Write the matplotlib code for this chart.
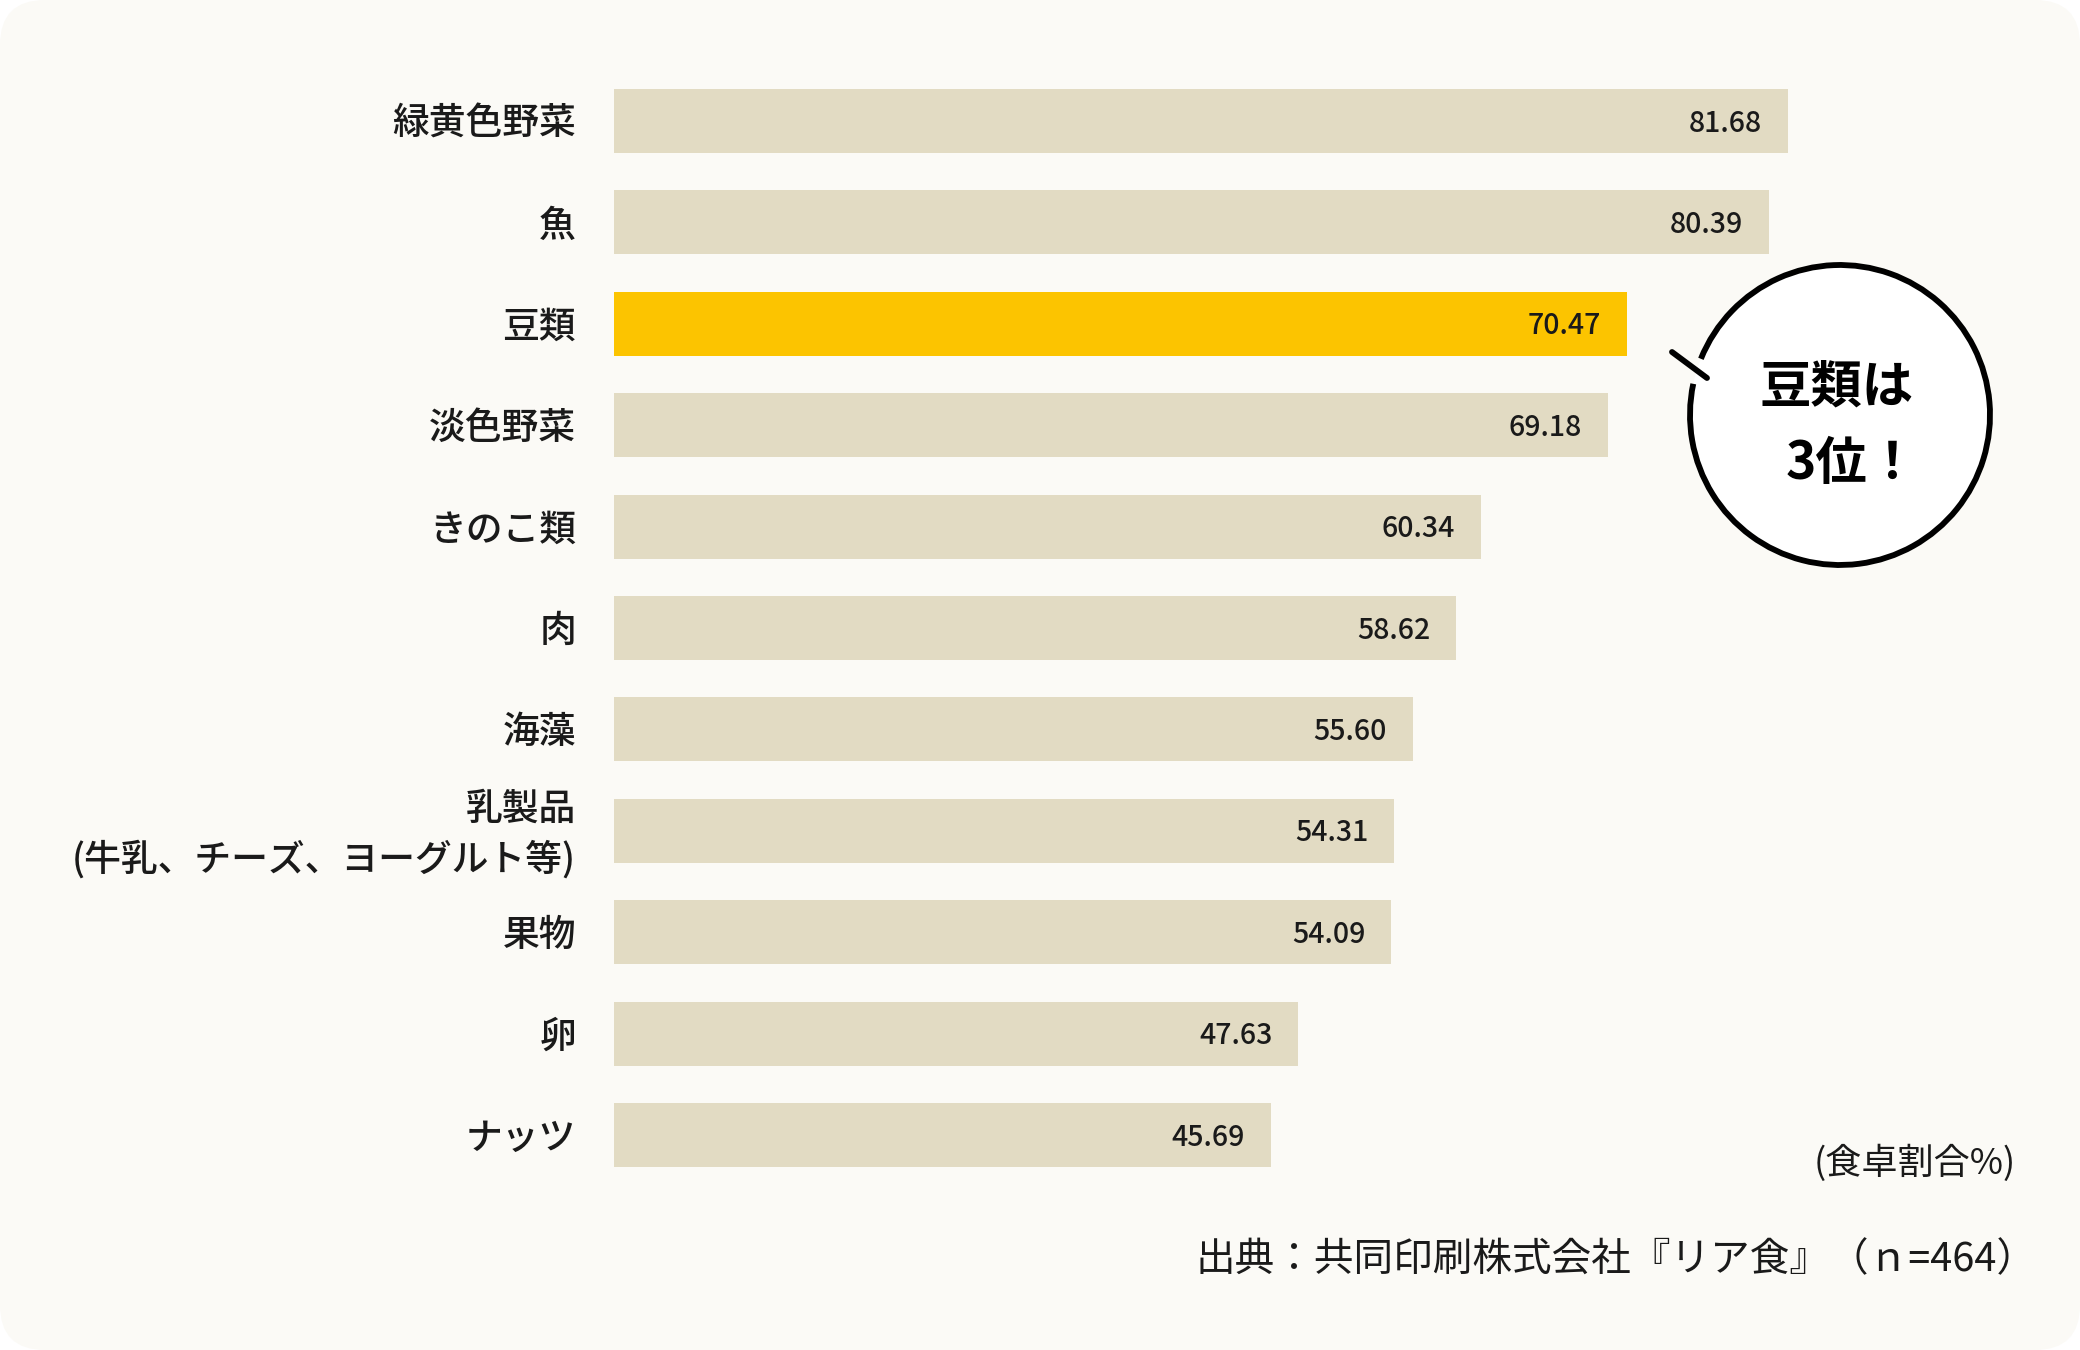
import matplotlib
matplotlib.use("Agg")
import matplotlib.pyplot as plt
from matplotlib.patches import FancyBboxPatch, Circle, Arc

plt.rcParams['font.family'] = ['Noto Sans CJK JP', 'DejaVu Sans']

categories = ["緑黄色野菜", "魚", "豆類", "淡色野菜", "きのこ類", "肉", "海藻",
              "乳製品\n(牛乳、チーズ、ヨーグルト等)", "果物", "卵", "ナッツ"]
values = [81.68, 80.39, 70.47, 69.18, 60.34, 58.62, 55.60, 54.31, 54.09, 47.63, 45.69]
highlight = "豆類"

BEIGE = "#E2DBC3"
YELLOW = "#FCC400"
TEXT = "#1A1A1A"
PANEL = "#FBFAF6"

W, H = 2080, 1350
fig = plt.figure(figsize=(W / 100, H / 100), dpi=100, facecolor="white")

# background panel
bg = fig.add_axes([0, 0, 1, 1], zorder=0)
bg.set_xlim(0, W); bg.set_ylim(0, H); bg.axis("off")
bg.add_patch(FancyBboxPatch((0, 0), W, H, boxstyle="round,pad=0,rounding_size=45",
                            facecolor=PANEL, edgecolor="none"))

# main bar axes
left_px, right_px, top_px, bot_px = 614, 2000, 40, 1220
ax = fig.add_axes([left_px / W, 1 - bot_px / H, (right_px - left_px) / W, (bot_px - top_px) / H], zorder=1)
ax.set_facecolor("none")
px_per_unit = 14.37
ax.set_xlim(0, (right_px - left_px) / px_per_unit)
ax.set_ylim(10.838, -0.799)

ypos = list(range(len(categories)))
colors = [YELLOW if c == highlight else BEIGE for c in categories]
ax.barh(ypos, values, height=0.63, color=colors, edgecolor="none")
for y, v in zip(ypos, values):
    ax.annotate(f"{v:.2f}", xy=(v, y), xytext=(-26, -2), textcoords="offset pixels",
                ha="right", va="center", fontsize=20.5, color=TEXT, fontweight="medium")

for y, c in zip(ypos, categories):
    ax.annotate(c, xy=(0, y), xycoords=("axes fraction", "data"), xytext=(-38, -3),
                textcoords="offset pixels", ha="right", va="center", fontsize=26.5,
                color=TEXT, fontweight="medium", linespacing=1.4)

ax.set_yticks([])
ax.set_xticks([])
for s in ax.spines.values():
    s.set_visible(False)

# overlay: callout and notes
ov = fig.add_axes([0, 0, 1, 1], zorder=2)
ov.set_xlim(0, W); ov.set_ylim(0, H); ov.axis("off"); ov.set_facecolor("none")
cx, cy, r = 1840, H - 415, 150
ov.add_patch(Circle((cx, cy), r, facecolor="white", edgecolor="none"))
ov.add_patch(Arc((cx, cy), 2 * r, 2 * r, theta1=168, theta2=518, lw=4.2, color="black"))
ov.plot([1672, 1707], [H - 352, H - 378], color="black", lw=4.2, solid_capstyle="round")
ov.text(1837, H - 387, "豆類は", ha="center", va="center", fontsize=37, fontweight="bold", color="black")
ov.text(1852, H - 464, "3位！", ha="center", va="center", fontsize=37, fontweight="bold", color="black")

ov.text(2016, H - 1163, "(食卓割合%)", ha="right", va="center", fontsize=26, color=TEXT)
ov.text(2036, H - 1260, "出典：共同印刷株式会社『リア食』（ｎ=464）", ha="right", va="center",
        fontsize=28.5, color=TEXT)

fig.savefig("out.png", dpi=100, facecolor="white")
